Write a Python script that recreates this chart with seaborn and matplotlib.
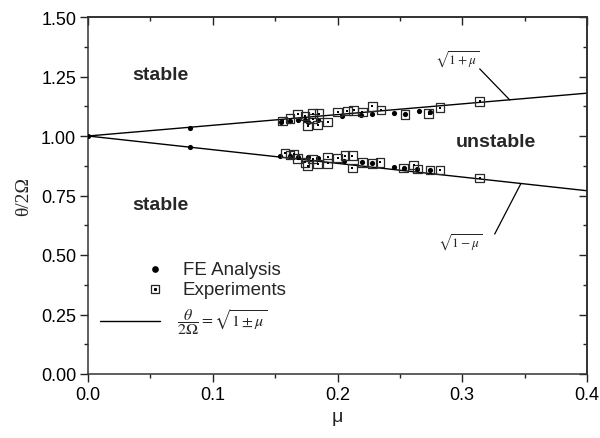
import numpy as np
import pandas as pd
import matplotlib
matplotlib.use("Agg")
import matplotlib.pyplot as plt
import seaborn as sns
from matplotlib.ticker import MultipleLocator

# ---------------- data ----------------
fe_mu_upper = [0.0, 0.082, 0.155, 0.162, 0.168, 0.174, 0.176, 0.184, 0.204, 0.219, 0.228, 0.245, 0.254, 0.265, 0.274]
fe_val_upper = [1.0, 1.034, 1.059, 1.063, 1.066, 1.069, 1.059, 1.067, 1.084, 1.088, 1.092, 1.097, 1.094, 1.105, 1.100]
fe_mu_lower = [0.082, 0.154, 0.162, 0.168, 0.176, 0.184, 0.205, 0.220, 0.228, 0.245, 0.253, 0.264, 0.274]
fe_val_lower = [0.954, 0.917, 0.917, 0.910, 0.910, 0.907, 0.896, 0.889, 0.885, 0.871, 0.866, 0.861, 0.857]

exp_mu_upper = [0.156, 0.162, 0.168, 0.174, 0.180, 0.185, 0.176, 0.184, 0.192, 0.180, 0.200, 0.208, 0.213, 0.220, 0.228, 0.235, 0.254, 0.273, 0.282, 0.314]
exp_val_upper = [1.063, 1.073, 1.092, 1.084, 1.094, 1.094, 1.042, 1.046, 1.059, 1.073, 1.100, 1.105, 1.108, 1.100, 1.125, 1.110, 1.091, 1.094, 1.119, 1.146]
exp_mu_lower = [0.158, 0.165, 0.162, 0.168, 0.174, 0.176, 0.180, 0.184, 0.192, 0.192, 0.200, 0.206, 0.212, 0.212, 0.220, 0.228, 0.234, 0.253, 0.261, 0.264, 0.274, 0.282, 0.314]
exp_val_lower = [0.928, 0.925, 0.920, 0.905, 0.889, 0.875, 0.903, 0.882, 0.885, 0.910, 0.907, 0.917, 0.917, 0.866, 0.889, 0.885, 0.889, 0.866, 0.879, 0.861, 0.857, 0.857, 0.824]

theory_mu = [0.0, 0.4]
theory_upper = [1.0, 1.18]
theory_lower = [1.0, 0.77]

x_ticks = [0.0, 0.1, 0.2, 0.3, 0.4]
y_ticks = [0.00, 0.25, 0.50, 0.75, 1.00, 1.25, 1.50]

# ---------------- style ----------------
sns.set_theme(style="ticks")
plt.rcParams["font.family"] = ["Liberation Sans", "DejaVu Sans"]
plt.rcParams["mathtext.fontset"] = "stix"

fig = plt.figure(figsize=(6.0, 4.39), dpi=100)
ax = fig.add_axes([88 / 600, 64 / 439, 499 / 600, 357 / 439])

fe = pd.DataFrame({"mu": fe_mu_upper + fe_mu_lower, "val": fe_val_upper + fe_val_lower})
ex = pd.DataFrame({"mu": exp_mu_upper + exp_mu_lower, "val": exp_val_upper + exp_val_lower})
th_u = pd.DataFrame({"mu": theory_mu, "val": theory_upper})
th_l = pd.DataFrame({"mu": theory_mu, "val": theory_lower})

sns.lineplot(data=th_u, x="mu", y="val", ax=ax, color="black", lw=1.0, zorder=2)
sns.lineplot(data=th_l, x="mu", y="val", ax=ax, color="black", lw=1.0, zorder=2)
sns.scatterplot(data=fe, x="mu", y="val", ax=ax, marker="o", s=14, color="black",
                edgecolor="black", linewidth=0, zorder=3)
sns.scatterplot(data=ex, x="mu", y="val", ax=ax, marker="s", s=38, facecolor="none",
                edgecolor="#2a2a2a", linewidth=0.9, zorder=4)
sns.scatterplot(data=ex, x="mu", y="val", ax=ax, marker="s", s=1.5, color="black",
                linewidth=0, zorder=5)

ax.set_xlim(0, 0.4)
ax.set_ylim(0, 1.5)
ax.set_xticks(x_ticks)
ax.set_xticklabels([f"{v:.1f}" for v in x_ticks])
ax.set_yticks(y_ticks)
ax.set_yticklabels([f"{v:.2f}" for v in y_ticks])
ax.xaxis.set_minor_locator(MultipleLocator(0.05))
ax.yaxis.set_minor_locator(MultipleLocator(0.125))

for s in ax.spines.values():
    s.set_visible(True)
    s.set_linewidth(1.1)
    s.set_color("#333333")
ax.tick_params(which="both", direction="out", top=False, right=False, colors="#222222",
               labelsize=13, labelcolor="black", pad=3)
ax.tick_params(which="major", length=5.5, width=1.0)
ax.tick_params(which="minor", length=3.2, width=1.0)
# mirrored inward ticks on top/right
axt = ax.secondary_xaxis("top")
axt.set_xticks(x_ticks)
axt.xaxis.set_minor_locator(MultipleLocator(0.05))
axt.tick_params(which="both", direction="in", labeltop=False, colors="#222222")
axt.tick_params(which="major", length=5.5, width=1.0)
axt.tick_params(which="minor", length=3.2, width=1.0)
axt.set_xticklabels([])
axr = ax.secondary_yaxis("right")
axr.set_yticks(y_ticks)
axr.yaxis.set_minor_locator(MultipleLocator(0.125))
axr.tick_params(which="both", direction="in", labelright=False, colors="#222222")
axr.tick_params(which="major", length=5.5, width=1.0)
axr.tick_params(which="minor", length=3.2, width=1.0)
axr.set_yticklabels([])

ax.set_xlabel("μ", fontsize=14, labelpad=4)
ax.set_ylabel("θ/2Ω", fontsize=14, family=["Liberation Serif", "DejaVu Serif"], labelpad=6)

# region labels
ax.text(0.058, 1.26, "stable", fontsize=14, fontweight="bold", ha="center", va="center")
ax.text(0.058, 0.714, "stable", fontsize=14, fontweight="bold", ha="center", va="center")
ax.text(0.327, 0.975, "unstable", fontsize=14, fontweight="bold", ha="center", va="center")

# curve labels with leader lines
ax.text(0.296, 1.323, r"$\sqrt{1+\mu}$", fontsize=9.5, ha="center", va="center")
ax.plot([0.314, 0.338], [1.282, 1.152], color="black", lw=0.9)
ax.text(0.298, 0.555, r"$\sqrt{1-\mu}$", fontsize=9.5, ha="center", va="center")
ax.plot([0.326, 0.347], [0.588, 0.800], color="black", lw=0.9)

# legend (drawn in axes coordinates)
tr = ax.transAxes
ax.plot([0.134], [0.294], marker="o", ms=3.8, color="black", transform=tr)
ax.text(0.19, 0.294, "FE Analysis", fontsize=13.5, va="center", transform=tr)
ax.plot([0.134], [0.238], marker="s", ms=6, mfc="none", mec="#222222", mew=0.9, transform=tr)
ax.plot([0.134], [0.238], marker="s", ms=1.2, color="black", transform=tr)
ax.text(0.19, 0.238, "Experiments", fontsize=13.5, va="center", transform=tr)
ax.plot([0.024, 0.144], [0.148, 0.148], color="black", lw=1.0, transform=tr)
ax.text(0.178, 0.148, r"$\dfrac{\theta}{2\Omega}=\sqrt{1\pm\mu}$", fontsize=11.5, va="center", transform=tr)

fig.savefig("out.png", dpi=100)
